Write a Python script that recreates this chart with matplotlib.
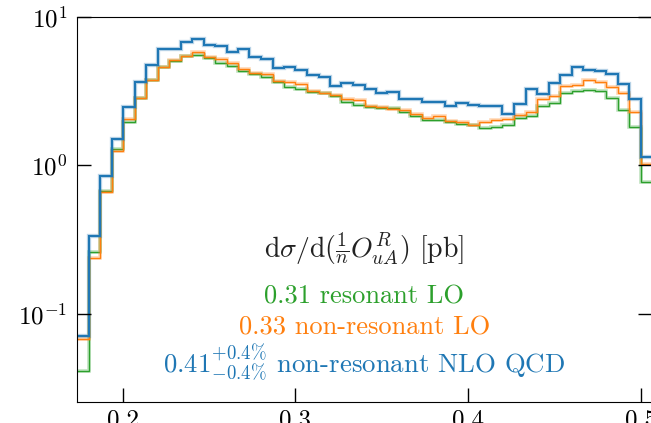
import numpy as np
import matplotlib
matplotlib.use("Agg")
import matplotlib.pyplot as plt

plt.rcParams["font.family"] = "serif"
plt.rcParams["font.serif"] = ["cmr10", "DejaVu Serif"]
plt.rcParams["mathtext.fontset"] = "cm"
plt.rcParams["axes.formatter.use_mathtext"] = True
plt.rcParams["axes.unicode_minus"] = False

# ---- histogram data: bin edges 26/150 ... 76/150 (width 1/150) -------------
edges = np.arange(26, 77) / 150.0

nlo_qcd = [0.0703, 0.332, 0.843, 1.514, 2.476, 3.667, 4.724, 6.12, 6.07, 6.795,
           7.10, 6.515, 6.385, 5.817, 6.12, 5.41, 5.178, 4.537, 4.608, 4.371,
           4.089, 3.946, 3.447, 3.573, 3.485, 3.275, 3.059, 3.107, 2.786, 2.817,
           2.659, 2.689, 2.527, 2.635, 2.539, 2.499, 2.499, 2.232, 2.586, 3.265,
           3.045, 3.595, 4.045, 4.608, 4.371, 4.304, 4.108, 3.528, 2.804, 1.141]
nonres_lo = [0.0675, 0.236, 0.658, 1.243, 2.055, 2.830, 3.743, 4.579, 5.106, 5.467,
             5.781, 5.41, 5.186, 4.873, 4.44, 4.172, 4.14, 3.685, 3.651, 3.517,
             3.19, 3.093, 2.998, 2.804, 2.744, 2.499, 2.461, 2.401, 2.349, 2.208,
             2.087, 2.163, 1.995, 1.962, 1.881, 1.960, 2.010, 2.049, 2.180, 2.270,
             2.782, 2.920, 3.41, 3.474, 3.743, 3.667, 3.379, 3.078, 2.295, 1.024]
res_lo = [0.0408, 0.261, 0.668, 1.290, 1.968, 2.830, 3.743, 4.579, 5.058, 5.449,
          5.578, 5.268, 4.926, 4.68, 4.33, 4.134, 3.915, 3.651, 3.379, 3.29,
          3.107, 3.059, 2.920, 2.659, 2.555, 2.476, 2.423, 2.423, 2.277, 2.163,
          2.033, 2.033, 1.950, 1.890, 1.873, 1.776, 1.824, 1.861, 2.081, 2.137,
          2.503, 2.647, 3.078, 3.155, 3.215, 3.18, 2.830, 2.349, 1.810, 0.768]

C_BLUE, C_ORANGE, C_GREEN = "#1f77b4", "#ff7f0e", "#2ca02c"

fig = plt.figure(figsize=(6.51, 4.23), dpi=100)
ax = fig.add_axes([77 / 651, 21 / 423, 575 / 651, 385 / 423])

for vals, c, lw in [(res_lo, C_GREEN, 1.0), (nonres_lo, C_ORANGE, 1.0), (nlo_qcd, C_BLUE, 1.5)]:
    ax.stairs(vals, edges, baseline=None, color=c, lw=lw + 1.6, alpha=0.3)
    ax.stairs(vals, edges, baseline=None, color=c, lw=lw)

ax.set_yscale("log")
ax.set_xlim(26 / 150, 76 / 150)
ax.set_ylim(0.0253, 10)
ax.set_xticks([0.2, 0.3, 0.4, 0.5])
ax.set_xticklabels(["0.2", "0.3", "0.4", "0.5"])
ax.yaxis.set_minor_locator(matplotlib.ticker.NullLocator())
ax.tick_params(axis="both", which="major", direction="in", length=10, width=1.0,
               labelsize=18, right=True, top=False)
ax.tick_params(axis="x", pad=5)
ax.tick_params(axis="y", pad=7)

ax.text(0.5, 0.374, r"$\mathrm{d}\sigma/\mathrm{d}(\frac{1}{n}O^R_{uA})$ [pb]",
        transform=ax.transAxes, ha="center", va="baseline", fontsize=20, color="#222222")
ax.text(0.5, 0.256, "0.31 resonant LO", transform=ax.transAxes, ha="center",
        va="baseline", fontsize=19, color=C_GREEN)
ax.text(0.5, 0.176, "0.33 non-resonant LO", transform=ax.transAxes, ha="center",
        va="baseline", fontsize=19, color=C_ORANGE)
ax.text(0.5, 0.077, r"$0.41^{+0.4\%}_{-0.4\%}$ non-resonant NLO QCD", transform=ax.transAxes,
        ha="center", va="baseline", fontsize=19.3, color=C_BLUE)

fig.savefig("out.png", dpi=100)
